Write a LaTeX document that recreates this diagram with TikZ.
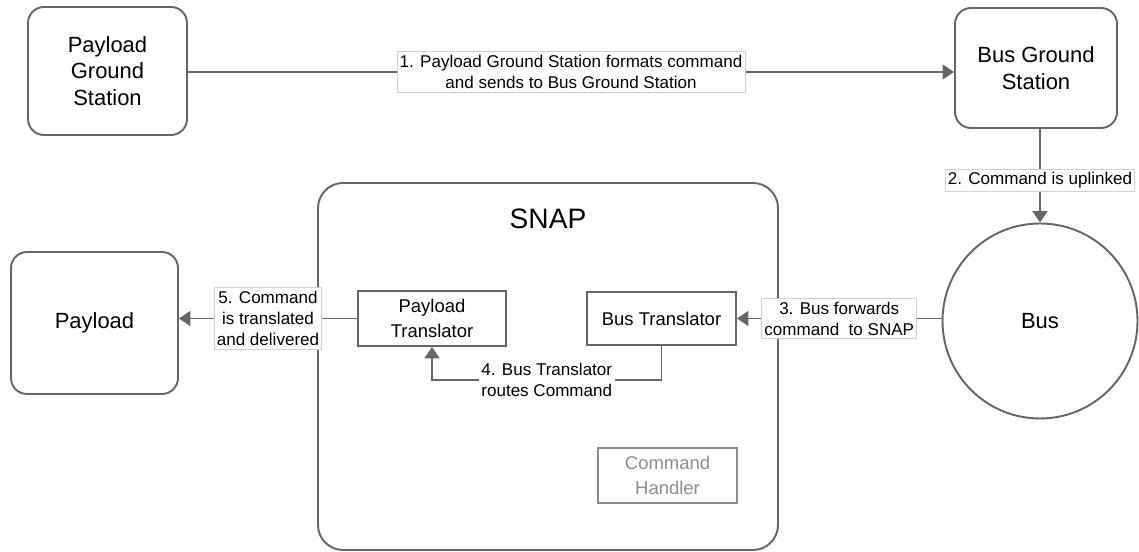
\documentclass[tikz,border=0pt]{standalone}
\usepackage{fontspec}
\setmainfont{Liberation Sans}
\usetikzlibrary{
    arrows.meta,
    positioning,
    calc
}
\definecolor{linegray}{HTML}{666666}
\definecolor{labelgray}{HTML}{D0D0D0}
\definecolor{handlergray}{HTML}{8C8C8C}
\tikzset{
    % --- Ground stations and payload (rounded box) ---
    station/.style = {
        rectangle, rounded corners=0.32cm, draw=linegray, line width=1.1pt,
        font=\fontsize{12.5}{15}\selectfont, align=center, fill=white
    },
    % --- Spacecraft bus (circle) ---
    bus node/.style = {
        circle, draw=linegray, line width=1.1pt,
        font=\fontsize{12.5}{15}\selectfont, inner sep=0pt
    },
    % --- SNAP enclosure ---
    snap border/.style = {
        rectangle, rounded corners=0.5cm, draw=linegray, line width=1.1pt
    },
    % --- Translator block inside SNAP ---
    translator/.style = {
        rectangle, draw=linegray, line width=1.1pt,
        font=\fontsize{10.5}{14.5}\selectfont, align=center, fill=white
    },
    % --- Idle block (grey) ---
    idle block/.style = {
        translator, draw=handlergray, text=handlergray
    },
    % --- Step label on a connector ---
    step label/.style = {
        font=\fontsize{9.7}{12}\selectfont, align=center,
        fill=white, draw=labelgray, line width=0.5pt,
        inner xsep=1.5pt, inner ysep=2pt
    },
    % --- Command flow arrow ---
    flow/.style = {
        -{Triangle[length=6.5pt, width=8.5pt]}, draw=linegray, line width=1.1pt
    }
}

\begin{document}
\begin{tikzpicture}

\useasboundingbox (0,0) rectangle (22.78,-11.04);

% ---------------------------------------------------------
% Ground segment
% ---------------------------------------------------------
\node[station, minimum width=3.18cm, minimum height=2.56cm] (PayloadGS) at (2.15,-1.42) {Payload\\Ground\\Station};
\node[station, minimum width=3.24cm, minimum height=2.4cm] (BusGS) at (20.72,-1.36) {Bus Ground\\Station};

\draw[flow] (PayloadGS.east |- 0,-1.44) -- (BusGS.west |- 0,-1.44)
    node[step label, midway] {1. Payload Ground Station formats command\\and sends to Bus Ground Station};

% ---------------------------------------------------------
% Bus
% ---------------------------------------------------------
\node[bus node, minimum size=3.9cm] (Bus) at (20.8,-6.42) {Bus};
\draw[flow] (BusGS.south -| Bus.north) -- (Bus.north)
    node[step label, pos=0.55] {2. Command is uplinked};

% ---------------------------------------------------------
% SNAP
% ---------------------------------------------------------
\node[snap border, minimum width=9.2cm, minimum height=7.34cm] (Snap) at (10.96,-7.33) {};
\node[font=\fontsize{16}{19}\selectfont, below=0.42cm of Snap.north] (SnapTitle) {SNAP};

\node[translator, minimum width=2.96cm, minimum height=1.1cm] (PayloadTrans) at (8.64,-6.37) {Payload\\Translator};
\node[translator, minimum width=2.98cm, minimum height=1.06cm] (BusTrans) at (13.23,-6.37) {Bus Translator};
\node[idle block, minimum width=2.78cm, minimum height=1.1cm] (CmdHandler) at (13.35,-9.51) {Command\\Handler};

\draw[flow] (Bus.west |- BusTrans.east) -- (BusTrans.east)
    node[step label, midway] {3. Bus forwards\\command\ \ to SNAP};

% routing inside SNAP
\coordinate (Turn) at ($(BusTrans.south)+(0,-0.68)$);
\draw[flow] (BusTrans.south) -- (Turn) -- (Turn -| PayloadTrans.south)
    node[step label, draw=none, midway] {4. Bus Translator\\routes Command}
    -- (PayloadTrans.south);

% ---------------------------------------------------------
% Payload
% ---------------------------------------------------------
\node[station, minimum width=3.34cm, minimum height=2.84cm] (Payload) at (1.89,-6.46) {Payload};
\draw[flow] (PayloadTrans.west) -- (PayloadTrans.west -| Payload.east)
    node[step label, midway] {5. Command\\is translated\\and delivered};

\end{tikzpicture}
\end{document}
